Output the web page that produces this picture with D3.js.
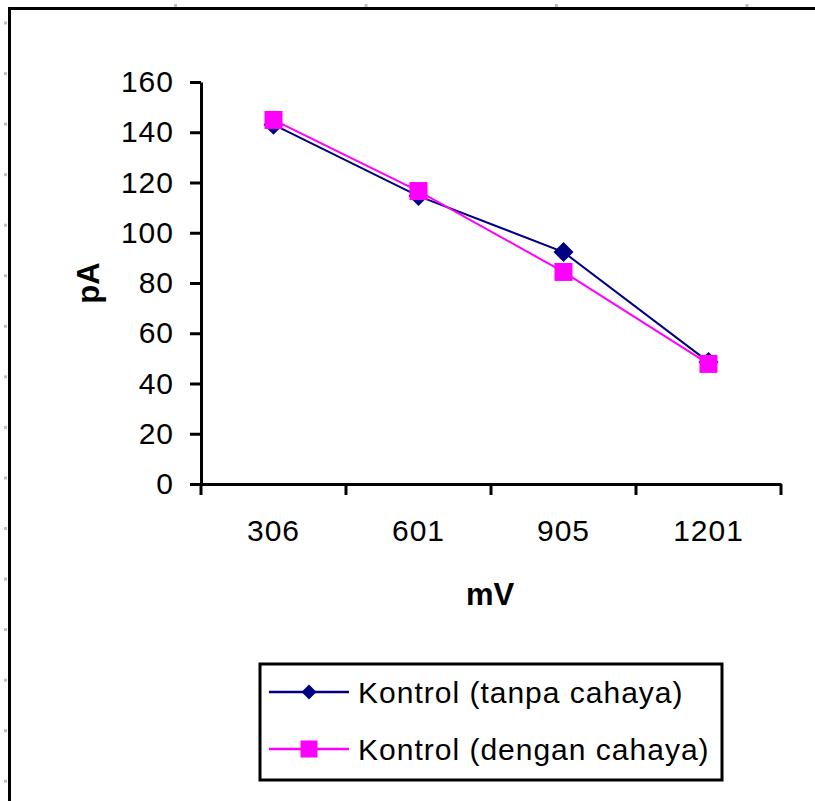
<!DOCTYPE html>
<html>
<head>
<meta charset="utf-8">
<script src="https://cdn.jsdelivr.net/npm/d3@7"></script>
<style>
  html, body { margin: 0; padding: 0; background: #fff; }
  svg { display: block; font-family: Arial, "Liberation Sans", sans-serif; }
</style>
</head>
<body>
<svg id="chart" width="815" height="801"></svg>
<script>
// values
const categories = ['306', '601', '905', '1201'];
const tanpaCahaya = [143, 114.6, 92.3, 48.6];
const denganCahaya = [144.9, 116.6, 84.4, 47.8];
const yTicks = [0, 20, 40, 60, 80, 100, 120, 140, 160];
const seriesNames = ['Kontrol (tanpa cahaya)', 'Kontrol (dengan cahaya)'];

const W = 815, H = 801;
const svg = d3.select('#chart');

// sheet gridline stubs peeking out round the chart frame
const gray = '#c0c0c0';
svg.append('g').selectAll('rect').data(d3.range(16)).join('rect')
  .attr('x', 4).attr('y', i => 21.5 + i * 50.55).attr('width', 3).attr('height', 3).attr('fill', gray);
svg.append('g').selectAll('rect').data(d3.range(4)).join('rect')
  .attr('x', i => 174 + i * 190.5).attr('y', 4).attr('width', 3).attr('height', 3).attr('fill', gray);

// chart frame (right and bottom run off the page)
svg.append('rect').attr('x', 9.5).attr('y', 8.5).attr('width', W + 20).attr('height', H + 20)
  .attr('fill', 'none').attr('stroke', '#000').attr('stroke-width', 3);

const x = d3.scaleBand().domain(categories).range([201, 781]).paddingInner(0).paddingOuter(0);
const y = d3.scaleLinear().domain([0, 160]).range([484, 82]);
const cx = c => x(c) + x.bandwidth() / 2;

// y axis
const gy = svg.append('g').attr('transform', 'translate(201,0)')
  .call(d3.axisLeft(y).tickValues(yTicks).tickSize(11).tickSizeOuter(0).tickPadding(16));
gy.selectAll('path, line').attr('stroke', '#000').attr('stroke-width', 3);
gy.selectAll('text').attr('font-size', 30).attr('letter-spacing', 1).attr('fill', '#000')
  .attr('font-family', 'Arial, "Liberation Sans", sans-serif');

// x axis: labels in band centres, ticks on band edges
const gx = svg.append('g').attr('transform', 'translate(0,484)')
  .call(d3.axisBottom(x).tickSize(0).tickSizeOuter(0).tickPadding(36));
gx.selectAll('path').attr('stroke', '#000').attr('stroke-width', 3);
gx.selectAll('text').attr('font-size', 30).attr('letter-spacing', 1).attr('fill', '#000')
  .attr('font-family', 'Arial, "Liberation Sans", sans-serif');
const edges = categories.map(c => x(c)).concat([x.range()[1]]);
gx.append('g').selectAll('line').data(edges).join('line')
  .attr('x1', d => d).attr('x2', d => d).attr('y1', 0).attr('y2', 11)
  .attr('stroke', '#000').attr('stroke-width', 3);

// axis titles
svg.append('text').attr('x', 490).attr('y', 605).attr('text-anchor', 'middle')
  .attr('font-size', 31).attr('font-weight', 'bold').text('mV');
svg.append('text').attr('transform', 'translate(99,283) rotate(-90)').attr('text-anchor', 'middle')
  .attr('font-size', 31).attr('font-weight', 'bold').text('pA');

const line = d3.line().x((d, i) => cx(categories[i])).y(d => y(d));
const diamond = s => `M0,${-s}L${s},0L0,${s}L${-s},0Z`;

// series 1: navy diamonds
svg.append('path').datum(tanpaCahaya).attr('d', line)
  .attr('fill', 'none').attr('stroke', '#000080').attr('stroke-width', 2);
svg.append('g').selectAll('path').data(tanpaCahaya).join('path')
  .attr('transform', (d, i) => `translate(${cx(categories[i])},${y(d)})`)
  .attr('d', diamond(10)).attr('fill', '#000080');

// series 2: magenta squares
svg.append('path').datum(denganCahaya).attr('d', line)
  .attr('fill', 'none').attr('stroke', '#ff00ff').attr('stroke-width', 2);
svg.append('g').selectAll('rect').data(denganCahaya).join('rect')
  .attr('x', (d, i) => cx(categories[i]) - 9).attr('y', d => y(d) - 9)
  .attr('width', 18).attr('height', 18).attr('fill', '#ff00ff');

// legend
const legend = svg.append('g');
legend.append('rect').attr('x', 260).attr('y', 664).attr('width', 462).attr('height', 116)
  .attr('fill', '#fff').attr('stroke', '#000').attr('stroke-width', 3);
const colors = ['#000080', '#ff00ff'];
const rows = legend.selectAll('g').data(seriesNames).join('g')
  .attr('transform', (d, i) => `translate(0,${692 + i * 57})`);
rows.append('line').attr('x1', 269).attr('x2', 349).attr('y1', 0).attr('y2', 0)
  .attr('stroke', (d, i) => colors[i]).attr('stroke-width', 2.5);
rows.filter((d, i) => i === 0).append('path')
  .attr('transform', 'translate(309,0)').attr('d', diamond(7.5)).attr('fill', colors[0]);
rows.filter((d, i) => i === 1).append('rect')
  .attr('x', 300.5).attr('y', -8.5).attr('width', 17).attr('height', 17).attr('fill', colors[1]);
rows.append('text').attr('x', 358).attr('y', 11).attr('font-size', 30).attr('letter-spacing', 1)
  .text(d => d);
</script>
</body>
</html>
